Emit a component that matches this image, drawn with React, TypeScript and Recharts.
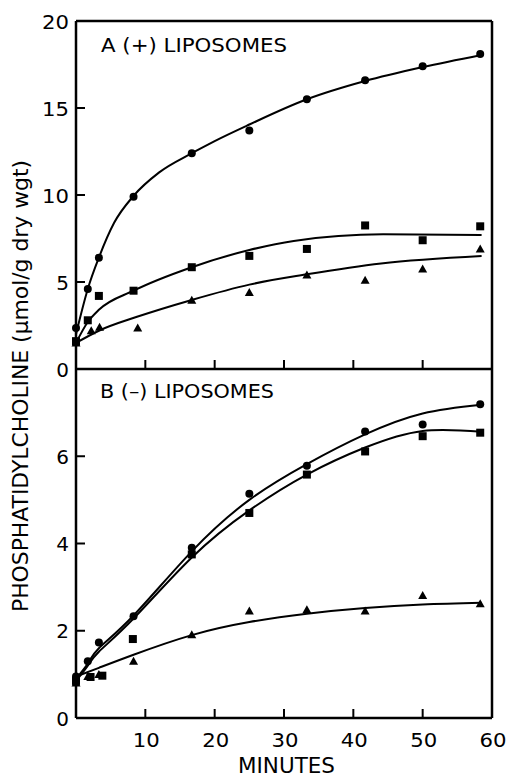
import React from 'react';
import { ComposedChart, Line, Scatter, XAxis, YAxis } from 'recharts';

// ---- data (minutes / µmol per g dry wgt) ----
const timesMin = [0, 1.7, 3.3, 8.3, 16.7, 25, 33.3, 41.7, 50, 58.3];
const aTriangleTimes = [0, 2.2, 3.4, 8.9, 16.7, 25, 33.3, 41.7, 50, 58.3];
const bSquareTimes = [0, 2.1, 3.8, 8.2, 16.7, 25, 33.3, 41.7, 50, 58.3];

// Panel A (+) liposomes: measured points
const aCircles = [2.35, 4.6, 6.4, 9.9, 12.4, 13.7, 15.5, 16.6, 17.4, 18.1];
const aSquares = [1.6, 2.8, 4.2, 4.5, 5.85, 6.5, 6.9, 8.25, 7.4, 8.2];
const aTriangles = [1.5, 2.2, 2.4, 2.35, 3.95, 4.4, 5.4, 5.1, 5.75, 6.9];

// Panel A fitted curves
const aCircleFitT = [0, 1.7, 3.3, 5.5, 8.3, 12, 16.7, 20, 25, 33.3, 41.7, 50, 58.5];
const aCircleFitV = [2.0, 4.6, 6.4, 8.4, 9.95, 11.3, 12.4, 13.1, 14.05, 15.5, 16.55, 17.35, 18.05];
const aSquareFitT = [0, 1.7, 3.3, 8.3, 16.7, 25, 31.4, 44.3, 58.5];
const aSquareFitV = [1.5, 2.7, 3.4, 4.5, 5.85, 6.84, 7.36, 7.74, 7.7];
const aTriangleFitT = [0, 3.3, 8.8, 16.7, 25, 33.3, 44, 58.5];
const aTriangleFitV = [1.5, 2.2, 3.0, 3.97, 4.85, 5.44, 6.07, 6.5];

// Panel B (–) liposomes: measured points
const bCircles = [0.95, 1.3, 1.73, 2.33, 3.9, 5.14, 5.78, 6.57, 6.73, 7.19];
const bSquares = [0.85, 0.94, 0.97, 1.81, 3.75, 4.7, 5.58, 6.11, 6.46, 6.54];
const bTriangles = [0.8, 0.95, 1.0, 1.3, 1.91, 2.45, 2.48, 2.45, 2.81, 2.62];

// Panel B fitted curves
const bCircleFitT = [0, 1.7, 3.3, 8.3, 16.7, 25, 33.3, 41.7, 50, 58.5];
const bCircleFitV = [0.9, 1.25, 1.6, 2.35, 3.82, 5.0, 5.82, 6.5, 6.98, 7.18];
const bSquareFitT = [0, 1.7, 3.3, 8.3, 16.7, 25, 33.3, 41.7, 50, 58.5];
const bSquareFitV = [0.85, 1.2, 1.52, 2.28, 3.68, 4.76, 5.58, 6.2, 6.58, 6.56];
const bTriangleFitT = [0, 3.3, 8.3, 16.7, 25, 33.3, 41.7, 50, 58.5];
const bTriangleFitV = [0.95, 1.15, 1.45, 1.9, 2.2, 2.39, 2.52, 2.6, 2.64];

// ticks
const xTickLabels = [10, 20, 30, 40, 50, 60];
const xTickMarks = [10, 20, 30, 40, 50];
const aYTicks = [0, 5, 10, 15, 20];
const aRightTicks = [5, 10, 15];
const bYTicks = [0, 2, 4, 6];
const bRightTicks = [2, 4, 6];

const pts = (t: number[], v: number[]) => t.map((x, i) => ({ x, y: v[i] }));

const FONT = 'DejaVu Sans';

const CircleDot = (p: any) => <circle cx={p.cx} cy={p.cy} r={4} fill="#000" />;
const SquareDot = (p: any) => <rect x={p.cx - 4} y={p.cy - 4} width={8} height={8} fill="#000" />;
const TriDot = (p: any) => (
  <polygon
    points={`${p.cx},${p.cy - 4.5} ${p.cx + 4.5},${p.cy + 3.5} ${p.cx - 4.5},${p.cy + 3.5}`}
    fill="#000"
  />
);

const LeftTick = (p: any) => {
  const { x, y, payload } = p;
  const label = String(payload.value);
  const extra: any = label.length > 1 ? { textLength: 27, lengthAdjust: 'spacingAndGlyphs' } : {};
  return (
    <g>
      <line x1={x} x2={x + 9} y1={y} y2={y} stroke="#000" strokeWidth={2} />
      <text x={x - 7} y={y + 7.5} textAnchor="end" fontFamily={FONT} fontSize={20} fill="#000" {...extra}>
        {label}
      </text>
    </g>
  );
};

const RightTick = (p: any) => {
  const { x, y } = p;
  return <line x1={x - 9} x2={x} y1={y} y2={y} stroke="#000" strokeWidth={2} />;
};

const BottomTickMarks = (p: any) => {
  const { x, y } = p;
  return <line x1={x} x2={x} y1={y - 9} y2={y} stroke="#000" strokeWidth={2} />;
};

const BottomTickLabeled = (p: any) => {
  const { x, y, payload } = p;
  const v = payload.value;
  return (
    <g>
      {v < 60 && <line x1={x} x2={x} y1={y - 9} y2={y} stroke="#000" strokeWidth={2} />}
      <text
        x={x + 1}
        y={y + 28.5}
        textAnchor="middle"
        fontFamily={FONT}
        fontSize={20}
        fill="#000"
        textLength={27}
        lengthAdjust="spacingAndGlyphs"
      >
        {String(v)}
      </text>
    </g>
  );
};

const axisLine = { stroke: '#000', strokeWidth: 2.5 };
const CURVE = 'natural' as const;

export default function App() {
  const W = 508;
  const H = 777;
  return (
    <div style={{ position: 'absolute', left: 0, top: 0, width: W, height: H, background: '#fff' }}>
      {/* Panel A */}
      <div style={{ position: 'absolute', left: 0, top: 0 }}>
        <ComposedChart width={W} height={H} margin={{ top: 20, right: 15, bottom: 407, left: 75 }}>
          <XAxis
            xAxisId={0}
            dataKey="x"
            type="number"
            domain={[0, 60]}
            ticks={xTickMarks}
            height={1}
            tickSize={0}
            tickMargin={0}
            tickLine={false}
            axisLine={axisLine}
            tick={BottomTickMarks}
            interval={0}
          />
          <XAxis
            xAxisId="top"
            orientation="top"
            type="number"
            domain={[0, 60]}
            height={1}
            tick={false}
            tickLine={false}
            axisLine={axisLine}
          />
          <YAxis
            yAxisId="l"
            type="number"
            domain={[0, 20]}
            ticks={aYTicks}
            width={1}
            tickSize={0}
            tickMargin={0}
            tickLine={false}
            axisLine={axisLine}
            tick={LeftTick}
            interval={0}
          />
          <YAxis
            yAxisId="r"
            orientation="right"
            type="number"
            domain={[0, 20]}
            ticks={aRightTicks}
            width={1}
            tickSize={0}
            tickMargin={0}
            tickLine={false}
            axisLine={axisLine}
            tick={RightTick}
            interval={0}
          />
          <Line yAxisId="l" data={pts(aCircleFitT, aCircleFitV)} dataKey="y" type="monotone" stroke="#000" strokeWidth={2} dot={false} isAnimationActive={false} />
          <Line yAxisId="l" data={pts(aSquareFitT, aSquareFitV)} dataKey="y" type="monotone" stroke="#000" strokeWidth={2} dot={false} isAnimationActive={false} />
          <Line yAxisId="l" data={pts(aTriangleFitT, aTriangleFitV)} dataKey="y" type="monotone" stroke="#000" strokeWidth={2} dot={false} isAnimationActive={false} />
          <Scatter yAxisId="l" data={pts(timesMin, aCircles)} dataKey="y" shape={CircleDot} isAnimationActive={false} />
          <Scatter yAxisId="l" data={pts(timesMin, aSquares)} dataKey="y" shape={SquareDot} isAnimationActive={false} />
          <Scatter yAxisId="l" data={pts(aTriangleTimes, aTriangles)} dataKey="y" shape={TriDot} isAnimationActive={false} />
        </ComposedChart>
      </div>

      {/* Panel B */}
      <div style={{ position: 'absolute', left: 0, top: 0 }}>
        <ComposedChart width={W} height={H} margin={{ top: 369, right: 15, bottom: 58, left: 75 }}>
          <XAxis
            dataKey="x"
            type="number"
            domain={[0, 60]}
            ticks={xTickLabels}
            height={1}
            tickSize={0}
            tickMargin={0}
            tickLine={false}
            axisLine={axisLine}
            tick={BottomTickLabeled}
            interval={0}
          />
          <YAxis
            yAxisId="l"
            type="number"
            domain={[0, 8]}
            ticks={bYTicks}
            width={1}
            tickSize={0}
            tickMargin={0}
            tickLine={false}
            axisLine={axisLine}
            tick={LeftTick}
            interval={0}
          />
          <YAxis
            yAxisId="r"
            orientation="right"
            type="number"
            domain={[0, 8]}
            ticks={bRightTicks}
            width={1}
            tickSize={0}
            tickMargin={0}
            tickLine={false}
            axisLine={axisLine}
            tick={RightTick}
            interval={0}
          />
          <Line yAxisId="l" data={pts(bCircleFitT, bCircleFitV)} dataKey="y" type={CURVE} stroke="#000" strokeWidth={2} dot={false} isAnimationActive={false} />
          <Line yAxisId="l" data={pts(bSquareFitT, bSquareFitV)} dataKey="y" type={CURVE} stroke="#000" strokeWidth={2} dot={false} isAnimationActive={false} />
          <Line yAxisId="l" data={pts(bTriangleFitT, bTriangleFitV)} dataKey="y" type={CURVE} stroke="#000" strokeWidth={2} dot={false} isAnimationActive={false} />
          <Scatter yAxisId="l" data={pts(timesMin, bCircles)} dataKey="y" shape={CircleDot} isAnimationActive={false} />
          <Scatter yAxisId="l" data={pts(bSquareTimes, bSquares)} dataKey="y" shape={SquareDot} isAnimationActive={false} />
          <Scatter yAxisId="l" data={pts(timesMin, bTriangles)} dataKey="y" shape={TriDot} isAnimationActive={false} />
        </ComposedChart>
      </div>

      {/* titles */}
      <svg width={W} height={H} style={{ position: 'absolute', left: 0, top: 0, pointerEvents: 'none' }}>
        <text x={101} y={52} fontFamily={FONT} fontSize={20} fill="#000" textLength={186} lengthAdjust="spacingAndGlyphs">
          A (+) LIPOSOMES
        </text>
        <text x={100} y={398} fontFamily={FONT} fontSize={20} fill="#000" textLength={174} lengthAdjust="spacingAndGlyphs">
          B (–) LIPOSOMES
        </text>
        <text x={286.5} y={773} textAnchor="middle" fontFamily={FONT} fontSize={21} fill="#000" textLength={97} lengthAdjust="spacingAndGlyphs">
          MINUTES
        </text>
        <text
          transform="translate(28.3,386) rotate(-90)"
          textAnchor="middle"
          fontFamily={FONT}
          fontSize={21}
          fill="#000"
          textLength={452}
          lengthAdjust="spacingAndGlyphs"
        >
          PHOSPHATIDYLCHOLINE (µmol/g dry wgt)
        </text>
      </svg>
    </div>
  );
}
